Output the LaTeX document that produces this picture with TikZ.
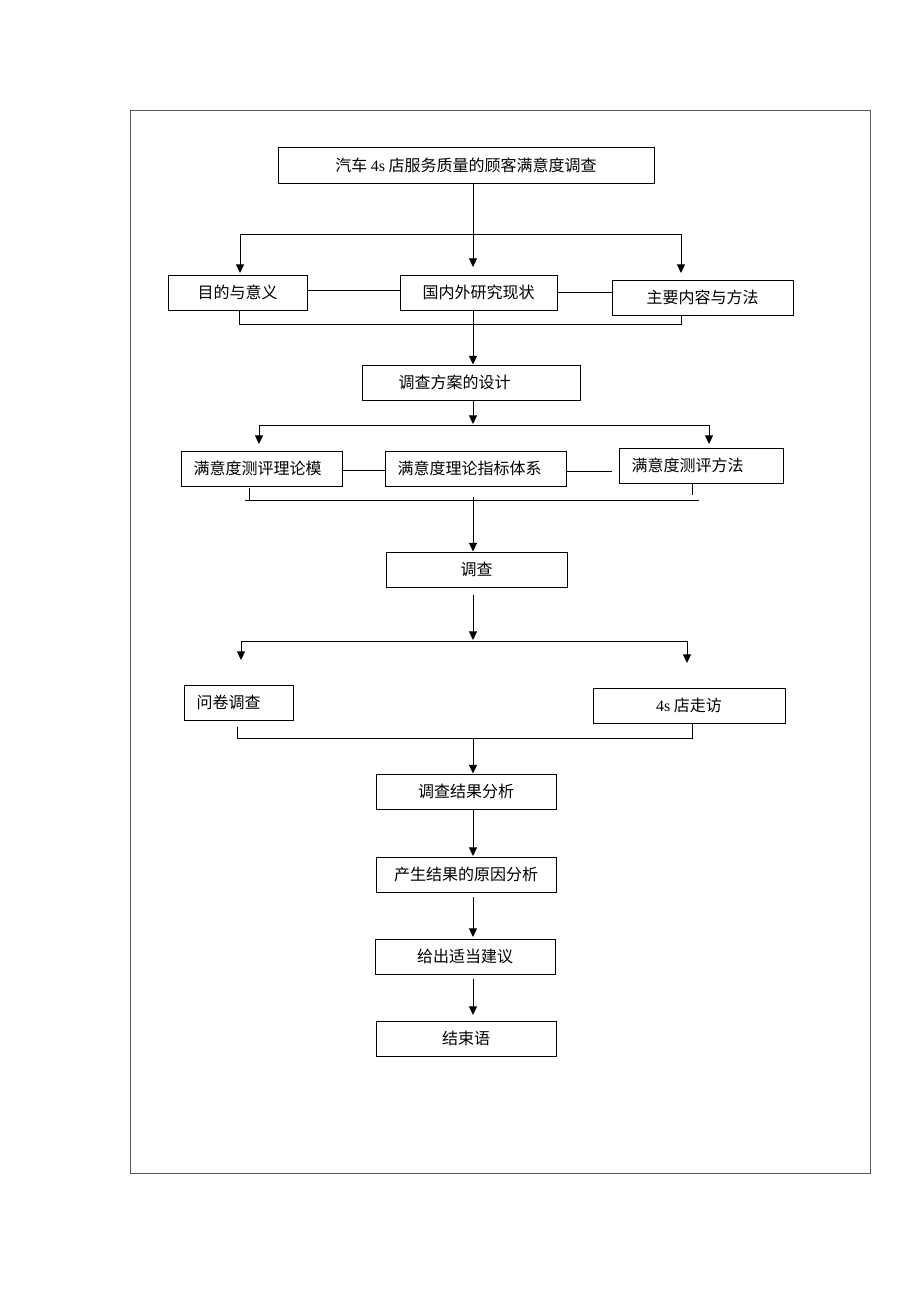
\documentclass[tikz,border=0pt]{standalone}
\usepackage{fontspec}
\setmainfont{Liberation Serif}
\newfontfamily\cjk{Noto Sans CJK SC}
\usetikzlibrary{arrows.meta}
\begin{document}
\begin{tikzpicture}[x=0.75pt,y=-0.75pt, line width=0.75pt,
  box/.style={draw, inner sep=0pt, minimum height=26.25pt, font=\fontsize{12}{14}\selectfont\cjk},
  txt/.style={inner sep=0pt, anchor=west, font=\fontsize{12}{14}\selectfont\cjk},
  arr/.style={-{Triangle[length=6.5pt,width=6pt]}}]
\useasboundingbox (0,0) rectangle (920,1302);
\draw[black!65] (130,111) rectangle (870,1173);

% title
\node[box, minimum width=282pt] (t) at (466,165.5) {汽车 {\rmfamily 4s} 店服务质量的顾客满意度调查};

% row 1
\node[box, minimum width=104.25pt] (a1) at (237.5,292.5) {目的与意义};
\node[box, minimum width=117.75pt] (a2) at (478.5,292.5) {国内外研究现状};
\node[box, minimum width=135.75pt] (a3) at (702.5,297.5) {主要内容与方法};

% design
\node[box, minimum width=163.5pt] (d) at (471,382.5) {};
\node[txt] (dt) at (398,382.5) {调查方案的设计};

% row 2
\node[box, minimum width=120.75pt] (b1) at (261.5,468.5) {};
\node[txt] (b1t) at (193,468.5) {满意度测评理论模};
\node[box, minimum width=135.75pt] (b2) at (475.5,468.5) {};
\node[txt] (b2t) at (397,468.5) {满意度理论指标体系};
\node[box, minimum width=123pt] (b3) at (701,465.5) {};
\node[txt] (b3t) at (631,465.5) {满意度测评方法};

% survey
\node[box, minimum width=135.75pt] (s) at (476.5,569.5) {调查};

% row 3
\node[box, minimum width=81.75pt] (c1) at (238.5,702.5) {};
\node[txt] (c1t) at (196,702.5) {问卷调查};
\node[box, minimum width=144pt] (c2) at (689,705.5) {{\rmfamily 4s} 店走访};

% final chain
\node[box, minimum width=135pt] (e1) at (466,791.5) {调查结果分析};
\node[box, minimum width=135pt] (e2) at (466,874.5) {产生结果的原因分析};
\node[box, minimum width=135pt] (e3) at (465,956.5) {给出适当建议};
\node[box, minimum width=135pt] (e4) at (466,1038.5) {结束语};

% coordinates
\coordinate (h1l) at (240,234);
\coordinate (h1c) at (473,234);
\coordinate (h1r) at (681,234);
\coordinate (p1l) at (239,324);
\coordinate (p1r) at (681,324);
\coordinate (h2c) at (473,425);
\coordinate (h2l) at (259,425);
\coordinate (h2r) at (709,425);
\coordinate (p2l) at (245,500);
\coordinate (p2r) at (699,500);
\coordinate (h3c) at (473,641);
\coordinate (h3l) at (241,641);
\coordinate (h3r) at (687,641);
\coordinate (p3l) at (237,738);
\coordinate (p3r) at (692,738);

% title -> row1
\draw[arr] (t.south -| h1c) -- (473,267);
\draw (h1l) -- (h1r);
\draw[arr] (h1l) -- (240,273);
\draw[arr] (h1r) -- (681,273);
\draw (a1.east |- 0,290) -- (a2.west |- 0,290);
\draw (a2.east |- 0,292) -- (a3.west |- 0,292);
\draw (239,310) -- (p1l) -- (p1r) -- (681,315);
\draw[arr] (473,310) -- (d.north -| h1c);

% design -> row2
\draw[arr] (d.south -| h2c) -- (473,424);
\draw (h2l) -- (h2r);
\draw[arr] (h2l) -- (259,444);
\draw[arr] (h2r) -- (709,444);
\draw (b1.east |- 0,470) -- (b2.west |- 0,470);
\draw (b2.east |- 0,471) -- (612,471);
\draw (249,488) -- (249,500);
\draw (692,483) -- (692,495);
\draw (p2l) -- (p2r);
\draw[arr] (473,497) -- (s.north -| h2c);

% survey -> row3
\draw[arr] (473,595) -- (473,640);
\draw (h3l) -- (h3r);
\draw[arr] (h3l) -- (241,660);
\draw[arr] (h3r) -- (687,663);
\draw (237,727) -- (p3l) -- (p3r) -- (692,723);
\draw[arr] (473,738) -- (e1.north -| h3c);

% chain
\draw[arr] (e1.south -| h3c) -- (473,856);
\draw[arr] (473,897) -- (473,937);
\draw[arr] (473,979) -- (473,1015);
\end{tikzpicture}
\end{document}
